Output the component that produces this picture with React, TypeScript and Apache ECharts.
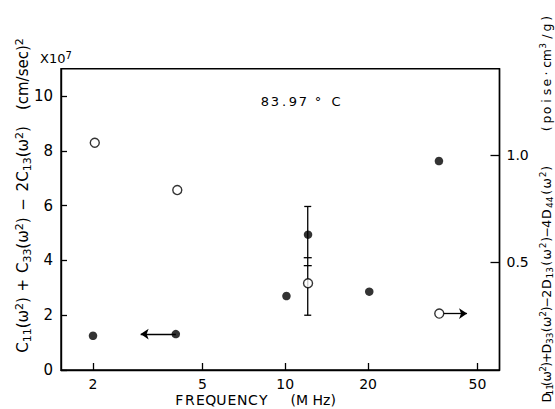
import React, { useEffect, useRef } from 'react';
import * as echarts from 'echarts';

// ---- data ----
const FREQ_TICKS = [2, 5, 10, 20, 50]; // MHz
const LEFT_TICKS = [0, 2, 4, 6, 8, 10]; // x10^7 (cm/sec)^2
const RIGHT_TICKS = [0.5, 1.0]; // poise·cm^3/g

const filledFreq = [2.0, 4.0, 10.1, 12.1, 20.2, 36.2];
const filledValue = [1.25, 1.31, 2.7, 4.94, 2.86, 7.63];

const openFreq = [2.03, 4.05, 12.1, 36.3];
const openValue = [1.056, 0.836, 0.403, 0.262];

const errFreq = [12.07];
const errLow = [2.0];
const errHigh = [5.97];
const errMid1 = [4.1];
const errMid2 = [3.81];

const leftArrowFreq = [4.0, 2.98];
const leftArrowValue = [1.31, 1.31];
const rightArrowFreq = [37.7, 45.8];
const rightArrowValue = [0.262, 0.262];

const X_MIN_FREQ = 1.53;
const X_MAX_FREQ = 60.1;
const LEFT_MAX = 11;
const RIGHT_MAX = 1.4;

const FONT = 'DejaVu Sans';
const lg = (v: number) => Math.log10(v);

type Part = [string, 'm' | 'b' | 'p', number?];

function buildRich(parts: Part[], size: number, sub: number, lh: number) {
  const rich: any = {};
  let text = '';
  parts.forEach(([t, k, w], i) => {
    const name = 't' + i;
    const st: any = {
      fontSize: k === 'm' ? size : sub,
      fontFamily: FONT,
      color: '#000',
      align: 'center',
      lineHeight: k === 'm' ? lh : sub,
      verticalAlign: k === 'p' ? 'top' : k === 'b' ? 'bottom' : 'middle',
    };
    if (w != null) st.width = w;
    rich[name] = st;
    text += '{' + name + '|' + t + '}';
  });
  return { text, rich };
}

function charParts(s: string, k: 'm' | 'b' | 'p', w: number): Part[] {
  return Array.from(s).map((c) => [c, k, w] as Part);
}

export default function App() {
  const ref = useRef<HTMLDivElement>(null);

  useEffect(() => {
    if (!ref.current) return;
    const chart = echarts.init(ref.current, null, { renderer: 'svg' });

    const leftName = buildRich(
      [
        ['C', 'm'], ['11', 'b'], ['(ω', 'm'], ['2', 'p'], [')', 'm'],
        ['+', 'm', 24],
        ['C', 'm'], ['33', 'b'], ['(ω', 'm'], ['2', 'p'], [')', 'm'],
        ['−', 'm', 26],
        ['2C', 'm'], ['13', 'b'], ['(ω', 'm'], ['2', 'p'], [')', 'm'],
        [' ', 'm', 16],
        ['(cm/sec)', 'm'], ['2', 'p'],
      ],
      15, 11, 19
    );

    const rightName = buildRich(
      [
        ['D', 'm', 9], ['11', 'b', 7], ['(', 'm', 5], ['ω', 'm', 10], ['2', 'p', 5], [')', 'm', 4],
        ['+', 'm', 9],
        ['D', 'm', 9], ['33', 'b', 12], ['(', 'm', 5], ['ω', 'm', 11], ['2', 'p', 5], [')', 'm', 5],
        ['−', 'm', 8],
        ['2', 'm', 9], ['D', 'm', 10], ['13', 'b', 13], ['(', 'm', 6], ['ω', 'm', 12], ['2', 'p', 6], [')', 'm', 6],
        ['−', 'm', 8],
        ['4', 'm', 9], ['D', 'm', 10], ['44', 'b', 14], ['(', 'm', 6], ['ω', 'm', 12], ['2', 'p', 6], [')', 'm', 6],
        [' ', 'm', 32],
        ...charParts('(poise·cm', 'm', 9.2),
        ['3', 'p', 9.2],
        ...charParts('/g)', 'm', 9.2),
      ],
      12.5, 9, 16
    );

    const xName = buildRich(
      [...charParts('FREQUENCY', 'm', 10.5), [' ', 'm', 22], ['(M Hz)', 'm']],
      14, 10, 16
    );

    const title = buildRich(
      [
        ['8', 'm', 10], ['3', 'm', 10], ['.', 'm', 8], ['9', 'm', 10], ['7', 'm', 10],
        [' ', 'm', 5], ['°', 'm', 10], [' ', 'm', 8], ['C', 'm', 10],
      ],
      13, 10, 16
    );

    const expo = buildRich([['X10', 'm'], ['7', 'p']], 13, 10, 15);

    const option: any = {
      animation: false,
      grid: {
        left: 61,
        right: 55.5,
        top: 68.7,
        bottom: 39,
        show: true,
        borderColor: '#000',
        borderWidth: 1.4,
        backgroundColor: 'transparent',
      },
      xAxis: {
        type: 'value',
        min: lg(X_MIN_FREQ),
        max: lg(X_MAX_FREQ),
        axisLine: { show: true, lineStyle: { color: '#000', width: 1.4 } },
        axisTick: {
          show: true,
          inside: true,
          length: 7,
          customValues: FREQ_TICKS.map(lg),
          lineStyle: { color: '#000', width: 1.3 },
        },
        axisLabel: {
          customValues: FREQ_TICKS.map(lg),
          formatter: (v: number) => String(Math.round(Math.pow(10, v))),
          color: '#000',
          fontSize: 14,
          fontFamily: FONT,
          margin: 7,
        },
        splitLine: { show: false },
      },
      yAxis: [
        {
          type: 'value',
          min: 0,
          max: LEFT_MAX,
          position: 'left',
          axisLine: { show: true, lineStyle: { color: '#000', width: 1.4 } },
          axisTick: {
            show: true,
            inside: true,
            length: 6,
            customValues: LEFT_TICKS,
            lineStyle: { color: '#000', width: 1.3 },
          },
          axisLabel: {
            customValues: LEFT_TICKS,
            color: '#000',
            fontSize: 15,
            fontFamily: FONT,
            margin: 8,
          },
          splitLine: { show: false },
        },
        {
          type: 'value',
          min: 0,
          max: RIGHT_MAX,
          position: 'right',
          axisLine: { show: true, lineStyle: { color: '#000', width: 1.4 } },
          axisTick: {
            show: true,
            inside: true,
            length: 9,
            customValues: RIGHT_TICKS,
            lineStyle: { color: '#000', width: 1.3 },
          },
          axisLabel: {
            customValues: RIGHT_TICKS,
            formatter: (v: number) => v.toFixed(1),
            color: '#000',
            fontSize: 14,
            fontFamily: FONT,
            margin: 7,
          },
          splitLine: { show: false },
        },
      ],
      series: [
        {
          type: 'custom',
          xAxisIndex: 0,
          yAxisIndex: 0,
          z: 1,
          silent: true,
          encode: { x: 0, y: [1, 2] },
          data: errFreq.map((f, i) => [lg(f), errLow[i], errHigh[i], errMid1[i], errMid2[i]]),
          renderItem: (params: any, api: any) => {
            const x = api.value(0);
            const lo = api.coord([x, api.value(1)]);
            const hi = api.coord([x, api.value(2)]);
            const m1 = api.coord([x, api.value(3)]);
            const m2 = api.coord([x, api.value(4)]);
            const st = { stroke: '#000', lineWidth: 1.3 };
            const cw = 3.5;
            const mw = 4;
            const h = (p: number[], w: number) => ({
              type: 'line',
              shape: { x1: p[0] - w, y1: p[1], x2: p[0] + w, y2: p[1] },
              style: st,
            });
            return {
              type: 'group',
              children: [
                { type: 'line', shape: { x1: lo[0], y1: lo[1], x2: hi[0], y2: hi[1] }, style: st },
                h(lo, cw),
                h(hi, cw),
                h(m1, mw),
                h(m2, mw),
              ],
            };
          },
        },
        {
          type: 'line',
          yAxisIndex: 0,
          data: [],
          z: 2,
          markLine: {
            silent: true,
            symbol: ['none', 'arrow'],
            symbolSize: 8,
            label: { show: false },
            lineStyle: { color: '#000', width: 1.3, type: 'solid' },
            data: [
              [
                { coord: [lg(leftArrowFreq[0]), leftArrowValue[0]] },
                { coord: [lg(leftArrowFreq[1]), leftArrowValue[1]] },
              ],
            ],
          },
        },
        {
          type: 'line',
          yAxisIndex: 1,
          data: [],
          z: 2,
          markLine: {
            silent: true,
            symbol: ['none', 'arrow'],
            symbolSize: 8,
            label: { show: false },
            lineStyle: { color: '#000', width: 1.3, type: 'solid' },
            data: [
              [
                { coord: [lg(rightArrowFreq[0]), rightArrowValue[0]] },
                { coord: [lg(rightArrowFreq[1]), rightArrowValue[1]] },
              ],
            ],
          },
        },
        {
          type: 'scatter',
          yAxisIndex: 0,
          z: 3,
          silent: true,
          symbol: 'circle',
          symbolSize: 8.5,
          itemStyle: { color: '#000' },
          data: filledFreq.map((f, i) => [lg(f), filledValue[i]]),
        },
        {
          type: 'scatter',
          yAxisIndex: 1,
          z: 4,
          silent: true,
          symbol: 'circle',
          symbolSize: 9,
          itemStyle: { color: '#fff', borderColor: '#000', borderWidth: 1.4 },
          data: openFreq.map((f, i) => [lg(f), openValue[i]]),
        },
      ],
      graphic: [
        {
          type: 'text',
          x: 23,
          y: 195.5,
          rotation: Math.PI / 2,
          silent: true,
          style: { text: leftName.text, rich: leftName.rich, align: 'center', verticalAlign: 'middle' },
        },
        {
          type: 'text',
          x: 546,
          y: 208,
          rotation: Math.PI / 2,
          silent: true,
          style: { text: rightName.text, rich: rightName.rich, align: 'center', verticalAlign: 'middle' },
        },
        {
          type: 'text',
          x: 255,
          y: 400,
          silent: true,
          style: { text: xName.text, rich: xName.rich, align: 'center', verticalAlign: 'middle' },
        },
        {
          type: 'text',
          x: 300.5,
          y: 101,
          silent: true,
          style: { text: title.text, rich: title.rich, align: 'center', verticalAlign: 'middle' },
        },
        {
          type: 'text',
          x: 40,
          y: 58,
          silent: true,
          style: { text: expo.text, rich: expo.rich, align: 'left', verticalAlign: 'middle' },
        },
      ],
    };

    chart.setOption(option);
    return () => chart.dispose();
  }, []);

  return (
    <div
      ref={ref}
      style={{ position: 'fixed', left: 0, top: 0, width: 555, height: 409, background: '#fff' }}
    />
  );
}
